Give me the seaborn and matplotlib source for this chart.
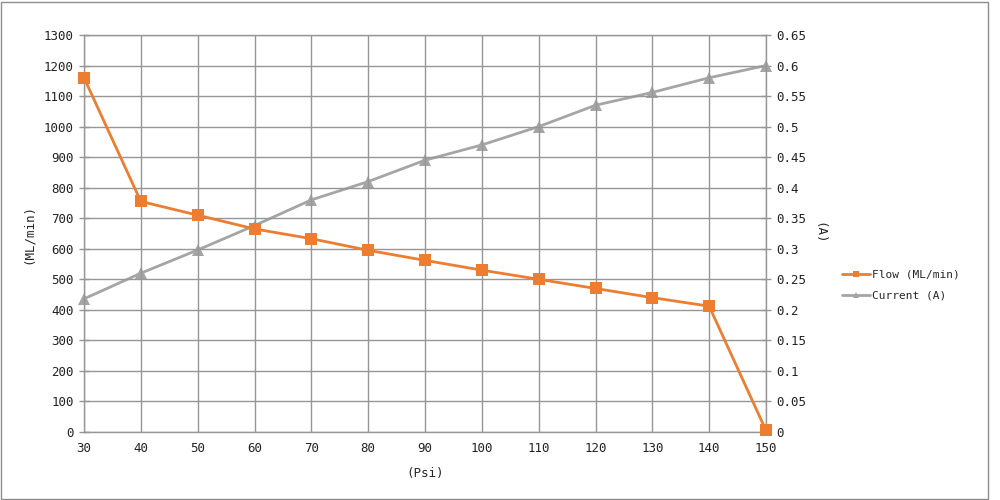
import matplotlib
matplotlib.use('Agg')
import matplotlib.pyplot as plt
import seaborn as sns
import pandas as pd
from matplotlib.lines import Line2D
from matplotlib.patches import Rectangle

# values
psi = [30, 40, 50, 60, 70, 80, 90, 100, 110, 120, 130, 140, 150]
flow = [1160, 755, 710, 665, 633, 595, 562, 530, 500, 470, 440, 412, 5]
current = [0.218, 0.26, 0.298, 0.338, 0.38, 0.41, 0.445, 0.47, 0.5, 0.535, 0.556, 0.58, 0.6]

flow_ticks = list(range(0, 1301, 100))
current_ticks = [i * 0.05 for i in range(14)]
current_labels = ['0', '0.05', '0.1', '0.15', '0.2', '0.25', '0.3', '0.35',
                  '0.4', '0.45', '0.5', '0.55', '0.6', '0.65']

ORANGE = '#ED7D31'
GREY = '#A5A5A5'
GRID = '#969696'

sns.set_style('white')
plt.rcParams['font.family'] = ['DejaVu Sans Mono', 'DejaVu Sans']
plt.rcParams['font.size'] = 9

df = pd.DataFrame({'psi': psi, 'flow': flow, 'current': current})

fig = plt.figure(figsize=(10, 5), dpi=100)
ax = fig.add_axes([0.084, 0.136, 0.682, 0.794])
ax2 = ax.twinx()

# grid
ax.set_xlim(30, 150)
ax.set_ylim(0, 1300)
ax.set_xticks(psi)
ax.set_yticks(flow_ticks)
ax.grid(True, color=GRID, linewidth=1.0)
ax.set_axisbelow(True)

sns.lineplot(data=df, x='psi', y='current', ax=ax2, color=GREY, linewidth=2,
             marker='^', markersize=8, markeredgewidth=0, clip_on=False,
             label='Current (A)', legend=False)
sns.lineplot(data=df, x='psi', y='flow', ax=ax, color=ORANGE, linewidth=2,
             marker='s', markersize=8, markeredgewidth=0, clip_on=False,
             label='Flow (ML/min)', legend=False, zorder=5)
ax.set_zorder(ax2.get_zorder() + 1)
ax.patch.set_visible(False)

ax2.set_ylim(0, 0.65)
ax2.set_yticks(current_ticks)
ax2.set_yticklabels(current_labels)

for s in ax.spines.values():
    s.set_color(GRID)
    s.set_linewidth(1.0)
    s.set_zorder(0)
for s in ax2.spines.values():
    s.set_visible(False)
for a in (ax, ax2):
    a.tick_params(length=7, width=1, color=GRID, direction='inout', labelsize=9, pad=4)

ax.tick_params(axis='both', colors=GRID, labelcolor='#222222')
ax2.tick_params(axis='y', colors=GRID, labelcolor='#222222')

ax.set_xlabel('(Psi)', fontsize=9, labelpad=8)
ax.set_ylabel('(ML/min)', fontsize=9, labelpad=6)
ax2.set_ylabel('(A)', fontsize=9, rotation=270, va='center')
ax2.yaxis.set_label_coords(1.078, 0.5)

handles = [Line2D([], [], color=ORANGE, lw=2, marker='s', ms=4, mew=0),
           Line2D([], [], color=GREY, lw=2, marker='^', ms=4, mew=0)]
fig.legend(handles, ['Flow (ML/min)', 'Current (A)'], loc='center left',
           bbox_to_anchor=(0.832, 0.43), frameon=False, fontsize=8,
           handlelength=2.5, labelspacing=1.0, handletextpad=0.2)

fig.patches.append(Rectangle((0.001, 0.002), 0.987, 0.994, transform=fig.transFigure,
                             fill=False, edgecolor='#8c8c8c', linewidth=1))

fig.savefig('out.png', dpi=100, facecolor='white')
